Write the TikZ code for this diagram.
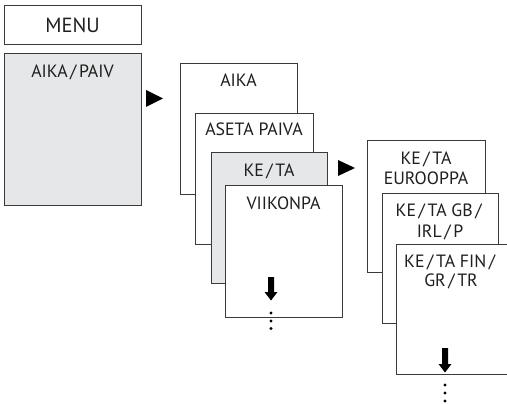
\documentclass[tikz,border=0pt]{standalone}
\usepackage{fontspec}
\setmainfont{PT Sans}
\definecolor{boxgray}{HTML}{E6E7E8}
\definecolor{linecol}{HTML}{3A3A3A}
\newcommand\slsh{\kern2.6pt/\kern2.6pt}
\begin{document}
\begin{tikzpicture}[x=1pt,y=-1pt,
  panel/.style={draw=linecol, line width=0.9pt, fill=white, anchor=north west,
    inner sep=0pt, outer sep=0pt, rectangle},
  graypanel/.style={panel, fill=boxgray},
  lbl/.style={inner sep=0pt, anchor=base, font=\fontsize{17.8}{20}\selectfont, text=black!88},
  menulbl/.style={inner sep=0pt, font=\fontsize{20.5}{22}\selectfont, text=black!88},
  pointer/.style={fill=black},
  dotmark/.style={fill=black}
]
\useasboundingbox (0,0) rectangle (507,404);

% MENU header
\node[panel, minimum width=137pt, minimum height=39pt] (menu) at (4,5) {};
\node[menulbl] (menut) at ([yshift=-0.5pt]menu.center) {MENU};

% first column
\node[graypanel, minimum width=137pt, minimum height=152pt] (aikapaiv) at (4,53) {};
\node[lbl] (aikapaivt) at ([yshift=-24.5pt]aikapaiv.north) {AIKA\slsh PAIV};

\fill[pointer] (146,90) -- (146,107) -- (163,98.5) -- cycle;

% second column
\node[panel, minimum width=117pt, minimum height=131pt] (aika) at (180,63) {};
\node[lbl] (aikat) at ([yshift=-24pt]aika.north) {AIKA};
\node[panel, minimum width=118pt, minimum height=131pt] (aseta) at (195,113) {};
\node[lbl] (asetat) at ([yshift=-23pt]aseta.north) {ASETA PAIVA};
\node[graypanel, minimum width=116pt, minimum height=131pt] (keta) at (211,152) {};
\node[lbl] (ketat) at ([yshift=-24pt]keta.north) {KE\slsh TA};
\node[panel, minimum width=117pt, minimum height=132pt] (viikon) at (225,185) {};
\node[lbl] (viikont) at ([yshift=-24pt]viikon.north) {VIIKONPA};

\coordinate (a1) at (271,300.5);
\fill[pointer] (a1) -- ++(-6.5,-8.5) -- ++(3.5,0) -- ++(0,-15) -- ++(6,0) -- ++(0,15) -- ++(3.5,0) -- cycle;
\fill[dotmark] (271,313) circle[radius=1.6pt];
\fill[dotmark] (271,321) circle[radius=1.6pt];
\fill[dotmark] (271,328.5) circle[radius=1.6pt];

\fill[pointer] (338,160) -- (338,176) -- (355,168) -- cycle;

% third column
\node[panel, minimum width=118pt, minimum height=132pt] (eur) at (367,140) {};
\node[lbl] (eurt1) at ([yshift=-24.5pt]eur.north) {KE\slsh TA};
\node[lbl] (eurt2) at ([yshift=-44.5pt]eur.north) {EUROOPPA};
\node[panel, minimum width=116pt, minimum height=130pt] (gb) at (382,193) {};
\node[lbl] (gbt1) at ([yshift=-24pt]gb.north) {KE\slsh TA GB\slsh};
\node[lbl] (gbt2) at ([yshift=-44pt]gb.north) {IRL\slsh P};
\node[panel, minimum width=114pt, minimum height=130.5pt] (fin) at (396,244) {};
\node[lbl] (fint1) at ([yshift=-23pt,xshift=-2pt]fin.north) {KE\slsh TA FIN\slsh};
\node[lbl] (fint2) at ([yshift=-43pt,xshift=-2pt]fin.north) {GR\slsh TR};

\coordinate (a2) at (445,372.5);
\fill[pointer] (a2) -- ++(-6.5,-8.5) -- ++(3.5,0) -- ++(0,-16) -- ++(6,0) -- ++(0,16) -- ++(3.5,0) -- cycle;
\fill[dotmark] (445,385) circle[radius=1.6pt];
\fill[dotmark] (445,393) circle[radius=1.6pt];
\fill[dotmark] (445,401) circle[radius=1.6pt];
\end{tikzpicture}
\end{document}
